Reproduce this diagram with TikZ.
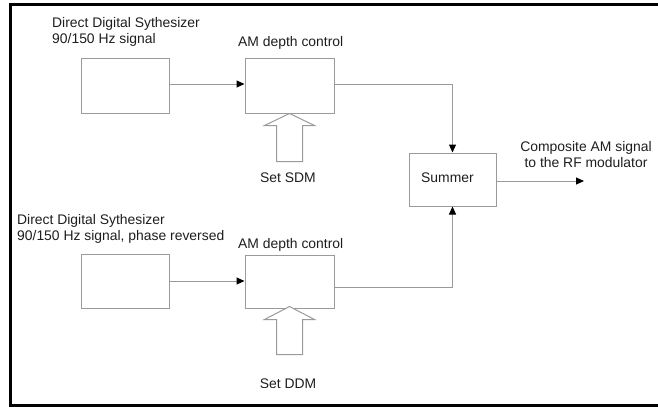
\documentclass[tikz,border=0pt]{standalone}
\usepackage{fontspec}
\setmainfont{Liberation Sans}
\usetikzlibrary{arrows.meta}
\definecolor{linegray}{HTML}{9A9A9A}
\definecolor{txt}{HTML}{1E1E1E}
\tikzset{
  blk/.style={draw=linegray, line width=1pt, minimum width=88pt, minimum height=55pt, inner sep=0pt},
  lbl/.style={text=txt, inner sep=0pt, font=\fontsize{13.9}{16.7}\selectfont, align=left},
  conn/.style={draw=linegray, line width=1pt, -{Triangle[length=8pt,width=7pt,black]}},
  hollow/.style={draw=linegray, line width=1pt, fill=white, line join=miter},
  frame/.style={draw=black, line width=3pt}
}
\begin{document}
\begin{tikzpicture}[x=1pt,y=-1pt]
\useasboundingbox (0,0) rectangle (658,407);
\draw[frame] (658,4.5) -- (10,4.5) -- (10,405) -- (658,405);

% blocks
\node[blk] (dds1) at (125,85.5) {};
\node[blk, minimum width=89pt] (am1) at (289.5,85.5) {};
\node[blk, minimum height=54pt] (dds2) at (125,281) {};
\node[blk, minimum width=89pt, minimum height=53pt] (am2) at (289.5,281.5) {};
\node[blk, minimum width=87pt, minimum height=53pt] (sum) at (452.5,179.5) {};
\coordinate (out) at (584,181);

% labels
\node[lbl, anchor=north west] (t1) at (52,17) {Direct Digital Sythesizer\\90/150 Hz signal};
\node[lbl, anchor=base west] (t2) at (238,46) {AM depth control};
\node[lbl, anchor=north west] (t3) at (17,214) {Direct Digital Sythesizer\\90/150 Hz signal, phase reversed};
\node[lbl, anchor=base west] (t4) at (238,248) {AM depth control};
\node[lbl, anchor=base] (t5) at (288,182) {Set SDM};
\begin{scope}
\clip (0,0) rectangle (658,387.5);
\node[lbl, anchor=base] (t6) at (288,388) {Set DDM};
\end{scope}
\node[lbl, anchor=base west] (t7) at (421,182) {Summer};
\node[lbl, anchor=north, align=center] (t8) at (586,141) {Composite AM signal\\to the RF modulator};

% connectors
\draw[conn] (dds1.east |- 0,84) -- (am1.west |- 0,84);
\draw[conn] (dds2.east) -- (am2.west |- dds2.east);
\draw[conn] (am1.east |- 0,84) -| (sum.north);
\draw[conn] (am2.east |- 0,287) -| (sum.south);
\draw[conn] (sum.east |- out) -- (out);

% hollow arrows
\draw[hollow] (am1.south) -- ++(25,12) -- ++(-12,0) -- ++(0,36) -- ++(-26,0) -- ++(0,-36) -- ++(-12,0) -- cycle;
\draw[hollow] ([yshift=2pt]am2.south) -- ++(25,13) -- ++(-12,0) -- ++(0,35) -- ++(-26,0) -- ++(0,-35) -- ++(-12,0) -- cycle;
\end{tikzpicture}
\end{document}
